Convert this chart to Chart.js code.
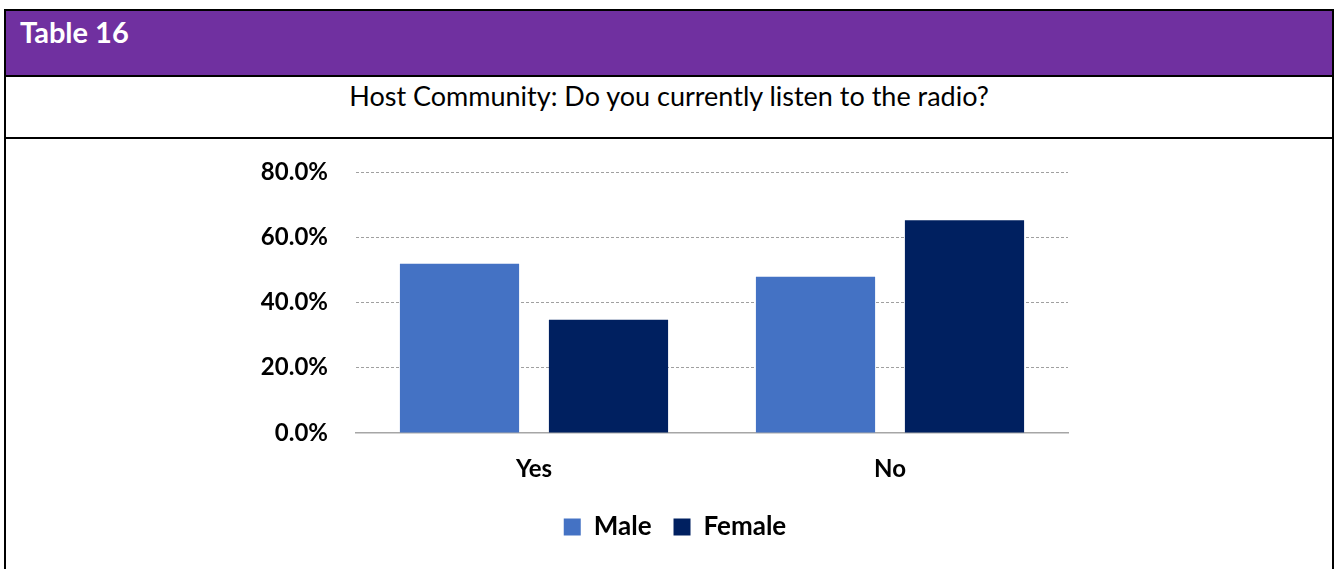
<!DOCTYPE html>
<html>
<head>
<meta charset="utf-8">
<script src="https://cdn.jsdelivr.net/npm/chart.js@4/dist/chart.umd.min.js"></script>
<style>
  body { margin: 0; background: #fff; width: 1336px; height: 569px; overflow: hidden; position: relative; font-family: Lato, sans-serif; }
  #frame { position: absolute; left: 4px; top: 9px; width: 1326px; height: 620px; border: 2px solid #000; }
  #head { position: absolute; left: 0; top: 0; width: 1326px; height: 64px; background: #7030a0; border-bottom: 2px solid #000; }
  #head span { position: absolute; left: 14px; top: 4px; color: #fff; font-weight: bold; font-size: 29px; line-height: 34.8px; white-space: nowrap; }
  #title { position: absolute; left: 0; top: 66px; width: 1326px; height: 60px; border-bottom: 2px solid #000; }
  #title div { position: absolute; left: 0; top: 3px; width: 100%; text-align: center; font-size: 27px; line-height: 32.4px; color: #000; white-space: nowrap; }
  #chart { position: absolute; left: 0; top: 139px; }
</style>
</head>
<body>
<div id="frame">
  <div id="head"><span>Table 16</span></div>
  <div id="title"><div>Host Community: Do you currently listen to the radio?</div></div>
</div>
<canvas id="chart" width="1336" height="430"></canvas>
<script>
// chart values
const categories = ['Yes', 'No'];
const seriesNames = ['Male', 'Female'];
const maleValues = [51.9, 47.9];
const femaleValues = [34.7, 65.2];
const yTickValues = [0, 20, 40, 60, 80];
const yTickLabels = ['0.0%', '20.0%', '40.0%', '60.0%', '80.0%'];

Chart.defaults.font.family = 'Lato, sans-serif';

// legend in the original sits a bit right of the plot centre
const legendShift = {
    id: 'legendShift',
    afterLayout(chart) {
        chart.legend.left += 18;
        chart.legend.right += 18;
    }
};

const ctx = document.getElementById('chart').getContext('2d');
const myChart = new Chart(ctx, {
    type: 'bar',
    data: {
        labels: categories,
        datasets: [{
            label: seriesNames[0],
            data: maleValues,
            backgroundColor: '#4472c4',
            borderWidth: 0,
            categoryPercentage: 0.837,
            barPercentage: 0.8
        }, {
            label: seriesNames[1],
            data: femaleValues,
            backgroundColor: '#002060',
            borderWidth: 0,
            categoryPercentage: 0.837,
            barPercentage: 0.8
        }]
    },
    options: {
        responsive: false,
        animation: false,
        layout: {
            padding: { left: 246, right: 268, top: 33, bottom: 19 }
        },
        scales: {
            x: {
                grid: { display: false, drawTicks: false },
                border: { display: true, color: '#a6a6a6', width: 1.5 },
                ticks: {
                    color: '#000',
                    padding: 22,
                    font: { size: 24, weight: 'bold' }
                },
                afterFit: (scale) => { scale.height = 59; }
            },
            y: {
                min: yTickValues[0],
                max: yTickValues[yTickValues.length - 1],
                ticks: {
                    stepSize: 20,
                    padding: 0,
                    color: '#000',
                    font: { size: 24, weight: 'bold' },
                    callback: (value) => yTickLabels[yTickValues.indexOf(value)]
                },
                grid: {
                    drawTicks: true,
                    tickLength: 28,
                    tickColor: 'rgba(0,0,0,0)',
                    lineWidth: 1,
                    color: (c) => c.tick && c.tick.value === 0 ? 'rgba(0,0,0,0)' : '#a0a0a0'
                },
                border: { display: false, dash: [3, 2] },
                afterFit: (scale) => { scale.width = 110; }
            }
        },
        plugins: {
            legend: {
                position: 'bottom',
                labels: {
                    boxWidth: 17,
                    boxHeight: 17,
                    padding: 22,
                    color: '#000',
                    font: { size: 26, weight: 'bold' }
                }
            },
            tooltip: { enabled: false }
        }
    },
    plugins: [legendShift]
});
</script>
</body>
</html>
